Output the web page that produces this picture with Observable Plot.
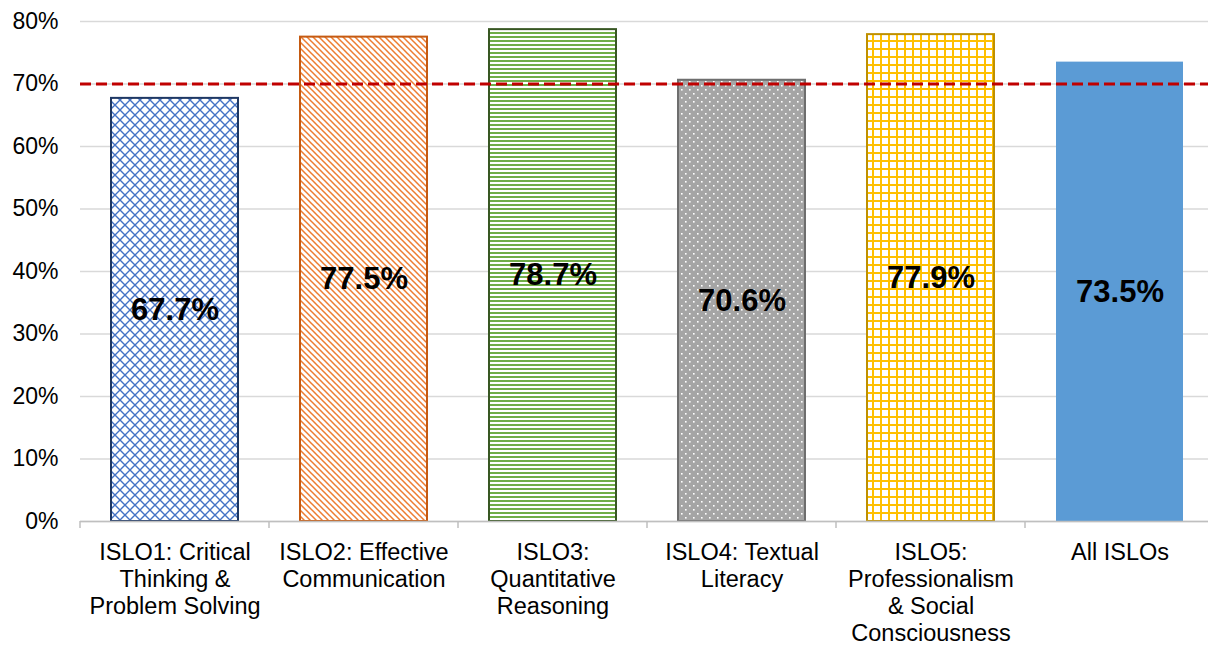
<!DOCTYPE html>
<html>
<head>
<meta charset="utf-8">
<script src="https://cdn.jsdelivr.net/npm/d3@7"></script>
<script src="https://cdn.jsdelivr.net/npm/@observablehq/plot@0.6"></script>
<style>
  html, body { margin: 0; padding: 0; background: #fff; }
  #chart svg { display: block; }
</style>
</head>
<body>
<div id="chart"></div>
<script>
const categories = [
  "ISLO1: Critical\nThinking &\nProblem Solving",
  "ISLO2: Effective\nCommunication",
  "ISLO3:\nQuantitative\nReasoning",
  "ISLO4: Textual\nLiteracy",
  "ISLO5:\nProfessionalism\n& Social\nConsciousness",
  "All ISLOs"
];
const values = [67.7, 77.5, 78.7, 70.6, 77.9, 73.5];
const fills = ["url(#p1)", "url(#p2)", "url(#p3)", "url(#p4)", "url(#p5)", "#5B9BD5"];
const strokes = ["#1F3864", "#C55A11", "#385723", "#6E6E6E", "#BF9000", "none"];
const yTicks = [0, 10, 20, 30, 40, 50, 60, 70, 80];
const target = [70];

const data = categories.map((c, i) => ({cat: c, value: values[i], fill: fills[i], stroke: strokes[i]}));

const plot = Plot.plot({
  width: 1208,
  height: 645,
  marginLeft: 80,
  marginRight: -6,
  marginTop: 21,
  marginBottom: 124,
  style: {fontFamily: "'Liberation Sans', Arial, sans-serif", color: "#000", background: "#fff"},
  x: {domain: categories, paddingInner: 0.33, paddingOuter: 0.165, label: null},
  y: {domain: [0, 80], label: null},
  color: {type: "identity"},
  marks: [
    Plot.gridY(yTicks, {stroke: "#D9D9D9", strokeOpacity: 1, strokeWidth: 1.5}),
    Plot.axisY(yTicks, {tickSize: 0, tickPadding: 22, fontSize: 23, tickFormat: d => d + "%"}),
    Plot.barY(data, {x: "cat", y: "value", fill: "fill", stroke: "stroke", strokeWidth: 2, inset: 0}),
    Plot.ruleY([0], {stroke: "#BFBFBF", strokeWidth: 1.5}),
    Plot.axisX({tickSize: 0, tickPadding: 19, fontSize: 23.5, lineHeight: 1.15}),
    Plot.ruleY(target, {stroke: "#C00000", strokeWidth: 3, strokeDasharray: "11,5"}),
    Plot.text(data, {x: "cat", y: d => d.value / 2, text: d => d.value.toFixed(1) + "%", fontSize: 31, fontWeight: "bold", fill: "#000"})
  ]
});

// Pattern definitions
const svg = d3.select(plot);
const defs = svg.insert("defs", ":first-child");

// p1: blue diamond lattice
const p1 = defs.append("pattern").attr("id", "p1").attr("patternUnits", "userSpaceOnUse").attr("width", 10).attr("height", 10);
p1.append("rect").attr("width", 10).attr("height", 10).attr("fill", "#fff");
p1.append("path").attr("d", "M0,0L10,10M10,0L0,10").attr("stroke", "#4472C4").attr("stroke-width", 1.4);

// p2: orange diagonal lines
const p2 = defs.append("pattern").attr("id", "p2").attr("patternUnits", "userSpaceOnUse").attr("width", 6).attr("height", 6);
p2.append("rect").attr("width", 6).attr("height", 6).attr("fill", "#fff");
p2.append("path").attr("d", "M-1,-1L7,7M-1,5L1,7M5,-1L7,1").attr("stroke", "#ED7D31").attr("stroke-width", 1.5);

// p3: green horizontal lines
const p3 = defs.append("pattern").attr("id", "p3").attr("patternUnits", "userSpaceOnUse").attr("width", 4).attr("height", 4);
p3.append("rect").attr("width", 4).attr("height", 4).attr("fill", "#fff");
p3.append("rect").attr("y", 0).attr("width", 4).attr("height", 2).attr("fill", "#70AD47");

// p4: gray with white dots
const p4 = defs.append("pattern").attr("id", "p4").attr("patternUnits", "userSpaceOnUse").attr("width", 8).attr("height", 8);
p4.append("rect").attr("width", 8).attr("height", 8).attr("fill", "#A5A5A5");
p4.append("rect").attr("x", 1).attr("y", 1).attr("width", 1.6).attr("height", 1.6).attr("fill", "#fff");
p4.append("rect").attr("x", 5).attr("y", 5).attr("width", 1.6).attr("height", 1.6).attr("fill", "#fff");

// p5: yellow grid
const p5 = defs.append("pattern").attr("id", "p5").attr("patternUnits", "userSpaceOnUse").attr("width", 8).attr("height", 8);
p5.append("rect").attr("width", 8).attr("height", 8).attr("fill", "#fff");
p5.append("rect").attr("x", 0).attr("y", 0).attr("width", 2).attr("height", 8).attr("fill", "#FFC000");
p5.append("rect").attr("x", 0).attr("y", 0).attr("width", 8).attr("height", 2).attr("fill", "#FFC000");

// Category boundary tick marks below baseline, from Plot's own scales
const xs = plot.scale("x");
const ys = plot.scale("y");
const step = xs.step;
const y0 = ys.apply(0);
const bounds = categories.map(c => xs.apply(c) - (step - xs.bandwidth) / 2);
bounds.push(bounds[bounds.length - 1] + step);
svg.append("g").selectAll("line").data(bounds).join("line")
  .attr("x1", d => d).attr("x2", d => d)
  .attr("y1", y0).attr("y2", y0 + 7)
  .attr("stroke", "#BFBFBF").attr("stroke-width", 1.5);

document.getElementById("chart").appendChild(plot);
</script>
</body>
</html>
